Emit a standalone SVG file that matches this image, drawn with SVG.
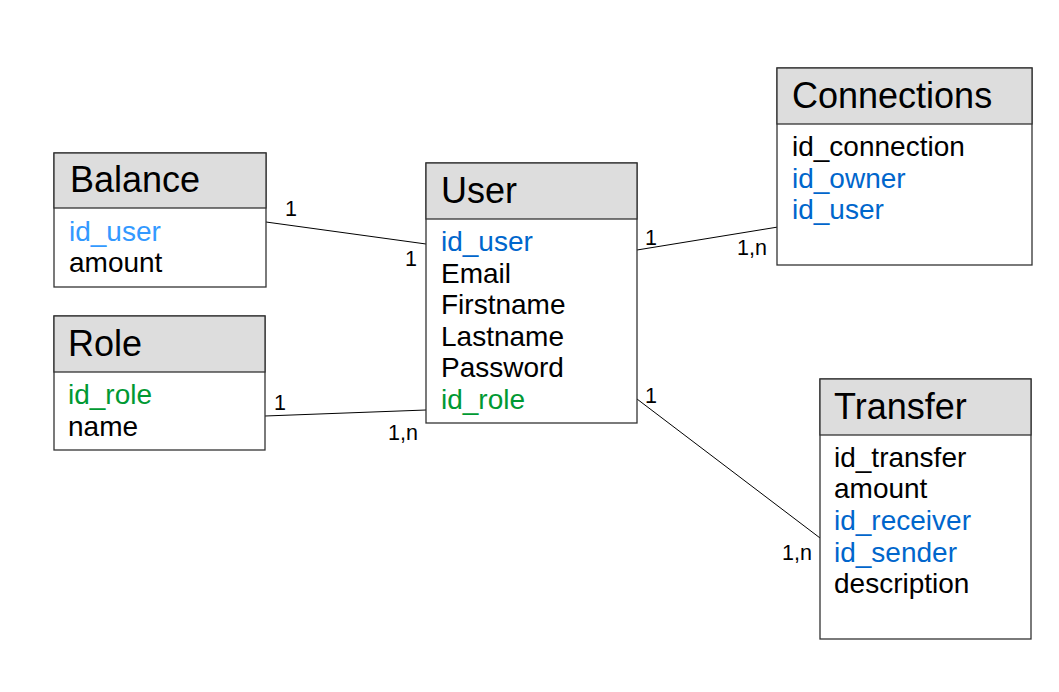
<svg xmlns="http://www.w3.org/2000/svg" width="1059" height="692" viewBox="0 0 1059 692">
<style>
.box{fill:#ffffff;stroke:#333333;stroke-width:1.3}
.hdr{fill:#dddddd;stroke:#333333;stroke-width:1.3}
.t{font-family:"Liberation Sans",Arial,sans-serif;font-size:36px;fill:#000}
.r{font-family:"Liberation Sans",Arial,sans-serif;font-size:28px;fill:#000}
.fk{fill:#0066cc}
.lb{fill:#3399ff}
.gr{fill:#009933}
.lab{font-family:"Liberation Sans",Arial,sans-serif;font-size:21.5px;fill:#000}
.ln{stroke:#000;stroke-width:1;fill:none}
</style>
<rect width="1059" height="692" fill="#ffffff"/>
<g id="connectors">
<line class="ln" x1="266" y1="222" x2="426" y2="244"/>
<line class="ln" x1="265" y1="416" x2="426" y2="410"/>
<line class="ln" x1="637" y1="250" x2="778" y2="227"/>
<line class="ln" x1="637" y1="399" x2="824" y2="541"/>
<text class="lab" x="285" y="216">1</text>
<text class="lab" x="405" y="266">1</text>
<text class="lab" x="274" y="410">1</text>
<text class="lab" x="388" y="440">1,n</text>
<text class="lab" x="645" y="245">1</text>
<text class="lab" x="737" y="255">1,n</text>
<text class="lab" x="645" y="403">1</text>
<text class="lab" x="782" y="560">1,n</text>
</g>
<g id="balance">
<rect class="box" x="54" y="153" width="212" height="134"/>
<rect class="hdr" x="54" y="153" width="212" height="55"/>
<text class="t" x="70" y="192">Balance</text>
<text class="r lb" x="69" y="241">id_user</text>
<text class="r" x="69" y="272">amount</text>
</g>
<g id="role">
<rect class="box" x="54" y="316" width="211" height="134"/>
<rect class="hdr" x="54" y="316" width="211" height="56"/>
<text class="t" x="68" y="356">Role</text>
<text class="r gr" x="68" y="404">id_role</text>
<text class="r" x="68" y="436">name</text>
</g>
<g id="user">
<rect class="box" x="426" y="163" width="211" height="260"/>
<rect class="hdr" x="426" y="163" width="211" height="56"/>
<text class="t" x="441" y="203">User</text>
<text class="r fk" x="441" y="251">id_user</text>
<text class="r" x="441" y="283">Email</text>
<text class="r" x="441" y="314">Firstname</text>
<text class="r" x="441" y="346">Lastname</text>
<text class="r" x="441" y="377">Password</text>
<text class="r gr" x="441" y="409">id_role</text>
</g>
<g id="connections">
<rect class="box" x="777" y="68" width="255" height="197"/>
<rect class="hdr" x="777" y="68" width="255" height="56"/>
<text class="t" x="792" y="108">Connections</text>
<text class="r" x="792" y="156">id_connection</text>
<text class="r fk" x="792" y="188">id_owner</text>
<text class="r fk" x="792" y="219">id_user</text>
</g>
<g id="transfer">
<rect class="box" x="820" y="379" width="211" height="260"/>
<rect class="hdr" x="820" y="379" width="211" height="56"/>
<text class="t" x="834" y="419">Transfer</text>
<text class="r" x="834" y="467">id_transfer</text>
<text class="r" x="834" y="498">amount</text>
<text class="r fk" x="834" y="530">id_receiver</text>
<text class="r fk" x="834" y="562">id_sender</text>
<text class="r" x="834" y="593">description</text>
</g>
</svg>
